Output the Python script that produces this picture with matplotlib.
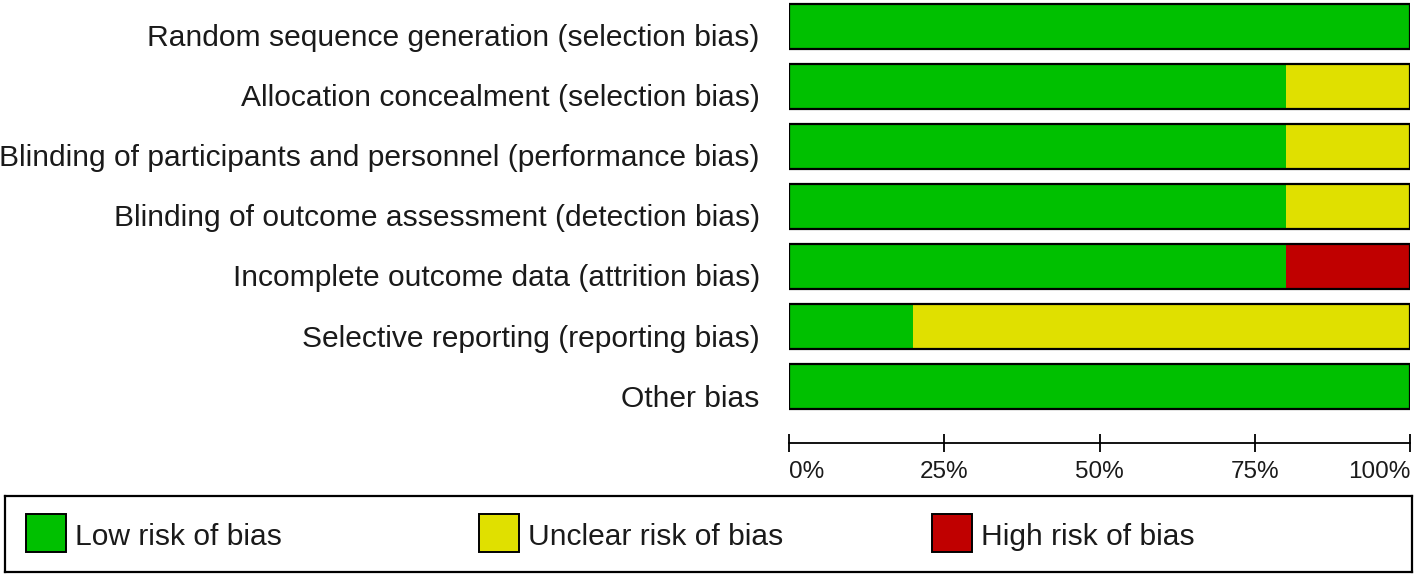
import matplotlib
matplotlib.use("Agg")
import matplotlib.pyplot as plt
from matplotlib.patches import Rectangle
from matplotlib.transforms import ScaledTranslation

domains = [
    "Random sequence generation (selection bias)",
    "Allocation concealment (selection bias)",
    "Blinding of participants and personnel (performance bias)",
    "Blinding of outcome assessment (detection bias)",
    "Incomplete outcome data (attrition bias)",
    "Selective reporting (reporting bias)",
    "Other bias",
]
low = [100, 80, 80, 80, 80, 20, 100]
unclear = [0, 20, 20, 20, 0, 80, 0]
high = [0, 0, 0, 0, 20, 0, 0]

risk_labels = ["Low risk of bias", "Unclear risk of bias", "High risk of bias"]
colors = ["#00C000", "#E0E000", "#C00000"]
ticks = [0, 25, 50, 75, 100]
tick_labels = ["0%", "25%", "50%", "75%", "100%"]

plt.rcParams['font.family'] = ['Liberation Sans', 'DejaVu Sans']
txt_color = '#1a1a1a'

W, H = 1418, 576
fig = plt.figure(figsize=(W / 100, H / 100), dpi=100)

# bar axes: pixel x 789..1410, y 0..443 (bottom spine is the scale line)
ax = fig.add_axes([789 / W, 1 - 443 / H, (1410 - 789) / W, 443 / H])
ypos = list(range(len(domains)))
left = [0] * len(domains)
for vals, c in zip([low, unclear, high], colors):
    ax.barh(ypos, vals, left=left, height=0.75, color=c, edgecolor='none')
    left = [a + b for a, b in zip(left, vals)]
ax.barh(ypos, left, height=0.75, fill=False, edgecolor='black', linewidth=1.6)

ax.set_xlim(0, 100)
ax.set_ylim(6 + (443 - 386.5) / 60, -26.5 / 60)
ax.set_yticks(ypos)
ax.set_yticklabels(domains, fontsize=21.6, color=txt_color)
ax.tick_params(axis='y', length=0, pad=21)
down = ScaledTranslation(0, -9 / 100, fig.dpi_scale_trans)
for t in ax.get_yticklabels():
    t.set_transform(t.get_transform() + down)

ax.set_xticks(ticks)
ax.set_xticklabels(tick_labels, fontsize=17.5, color=txt_color)
ax.tick_params(axis='x', direction='inout', length=13, width=1.3, pad=6.5)
xl = ax.get_xticklabels()
xl[0].set_ha('left')
xl[-1].set_ha('right')
for s in ['top', 'left', 'right']:
    ax.spines[s].set_visible(False)
ax.spines['bottom'].set_linewidth(1.3)

# legend box
lax = fig.add_axes([5 / W, 1 - 572 / H, (1412 - 5) / W, (572 - 496) / H])
lax.set_xlim(5, 1412)
lax.set_ylim(572, 496)
lax.set_xticks([])
lax.set_yticks([])
for s in lax.spines.values():
    s.set_linewidth(1.6)
for i, (lab, c) in enumerate(zip(risk_labels, colors)):
    x0 = 26 + i * 453
    lax.add_patch(Rectangle((x0, 514), 40, 38, facecolor=c, edgecolor='black', linewidth=1.4))
    lax.text(x0 + 49, 537, lab, fontsize=21.6, color=txt_color, va='center', ha='left')

fig.savefig("out.png", dpi=100)
